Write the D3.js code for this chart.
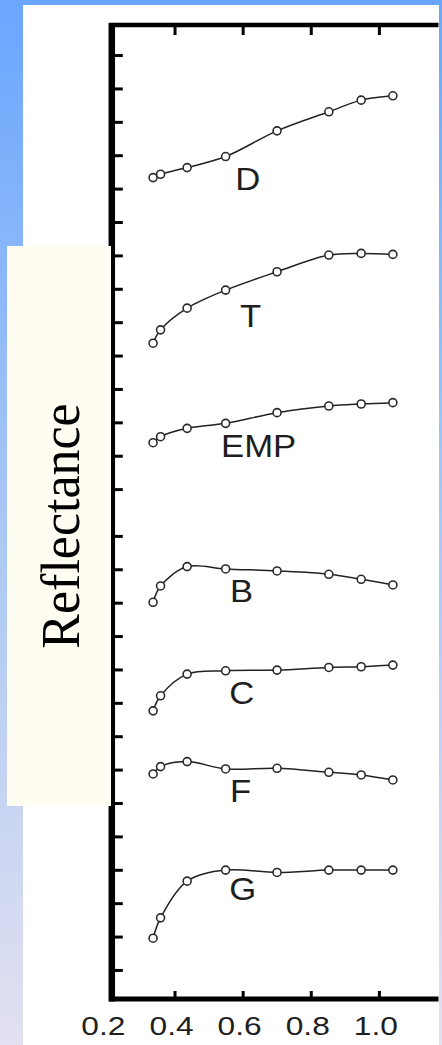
<!DOCTYPE html>
<html>
<head>
<meta charset="utf-8">
<script src="https://cdn.jsdelivr.net/npm/d3@7"></script>
<style>
  html, body { margin: 0; padding: 0; background: #fff; }
  svg { display: block; }
</style>
</head>
<body>
<svg id="chart" width="442" height="1045"></svg>
<script>
// ECAS filter wavelengths (micrometres)
const wavelengths = [0.337, 0.359, 0.437, 0.550, 0.701, 0.853, 0.948, 1.041];

// Taxonomic classes, top to bottom, each spectrum shifted vertically
const classes = ["D", "T", "EMP", "B", "C", "F", "G"];
const reflD   = [24.73, 24.83, 25.03, 25.36, 26.13, 26.70, 27.05, 27.18];
const reflT   = [19.77, 20.17, 20.82, 21.36, 21.91, 22.41, 22.46, 22.43];
const reflEMP = [16.79, 16.97, 17.22, 17.37, 17.69, 17.89, 17.95, 17.99];
const reflB   = [12.01, 12.50, 13.08, 13.01, 12.95, 12.85, 12.70, 12.53];
const reflC   = [8.76, 9.21, 9.86, 9.96, 9.98, 10.06, 10.08, 10.13];
const reflF   = [6.87, 7.09, 7.24, 7.02, 7.04, 6.92, 6.84, 6.69];
const reflG   = [1.95, 2.56, 3.66, 3.99, 3.92, 3.99, 3.99, 3.99];

// Axis ticks
const xTickValues = [0.4, 0.6, 0.8, 1.0];
const xLabelValues = [0.2, 0.4, 0.6, 0.8, 1.0];
const xTickLabels = ["0.2", "0.4", "0.6", "0.8", "1.0"];
const yTickValues = [1, 2, 3, 4, 5, 6, 7, 8, 9, 10, 11, 12, 13, 14,
                     15.4, 16.4, 17.4, 18.4, 19.4, 20.4, 21.4, 22.4,
                     23.4, 24.4, 25.4, 26.4, 27.4, 28.4];
const yTitle = "Reflectance";

const series = [reflD, reflT, reflEMP, reflB, reflC, reflF, reflG];

const svg = d3.select("#chart");
const W = 442, H = 1045;

// Slide backdrop: vertical blue-to-lavender gradient
const defs = svg.append("defs");
const grad = defs.append("linearGradient")
  .attr("id", "bg").attr("x1", 0).attr("y1", 0).attr("x2", 0).attr("y2", 1);
grad.append("stop").attr("offset", "0%").attr("stop-color", "#6aa6ff");
grad.append("stop").attr("offset", "50%").attr("stop-color", "#a9c8f3");
grad.append("stop").attr("offset", "100%").attr("stop-color", "#e2e0f1");
svg.append("rect").attr("width", W).attr("height", H).attr("fill", "url(#bg)");

// White figure panel
svg.append("rect").attr("x", 23).attr("y", 5).attr("width", 416).attr("height", H - 5)
  .attr("fill", "#ffffff");

const x = d3.scaleLinear().domain([0.2164, 1.175]).range([112, 438.5]);
const y = d3.scaleLinear().domain([0.13, 29.3]).range([999, 25]);

// Left axis with inward ticks
const gLeft = svg.append("g").attr("transform", `translate(${x(0.2164) - 0.2},0)`)
  .call(d3.axisRight(y).tickValues(yTickValues).tickSize(11).tickSizeOuter(0).tickFormat(""));
gLeft.select(".domain").attr("stroke", "#000").attr("stroke-width", 6.5)
  .attr("d", `M0,${y.range()[0] + 2.5}V${y.range()[1] - 2}`);
gLeft.selectAll(".tick line").attr("stroke", "#000").attr("stroke-width", 3);

// Bottom axis, ticks pointing up
const gBottom = svg.append("g").attr("transform", `translate(0,${y(0.13)})`)
  .call(d3.axisTop(x).tickValues(xTickValues).tickSize(8).tickSizeOuter(0).tickFormat(""));
gBottom.select(".domain").attr("stroke", "#000").attr("stroke-width", 5)
  .attr("d", `M${x.range()[0] - 3},0H${x.range()[1]}`);
gBottom.selectAll(".tick line").attr("stroke", "#000").attr("stroke-width", 3);

// Top frame, ticks pointing down
const gTop = svg.append("g").attr("transform", `translate(0,${y(29.3)})`)
  .call(d3.axisBottom(x).tickValues(xTickValues).tickSize(10).tickSizeOuter(0).tickFormat(""));
gTop.select(".domain").attr("stroke", "#000").attr("stroke-width", 4.5)
  .attr("d", `M${x.range()[0] - 3},0H${x.range()[1]}`);
gTop.selectAll(".tick line").attr("stroke", "#000").attr("stroke-width", 3);

// Wavelength labels
svg.append("g").selectAll("text").data(xLabelValues).join("text")
  .attr("transform", d => `translate(${x(d) - 3},1035) scale(1.22,1)`)
  .attr("text-anchor", "middle")
  .attr("font-family", "'Liberation Sans', Arial, sans-serif")
  .attr("font-size", 26)
  .attr("fill", "#1e1e1e")
  .text((d, i) => xTickLabels[i]);

// Spectra
const line = d3.line()
  .x((d, i) => x(wavelengths[i]))
  .y(d => y(d))
  .curve(d3.curveCatmullRom.alpha(0.5));

const gSeries = svg.append("g");
series.forEach((vals, k) => {
  const g = gSeries.append("g");
  g.append("path").attr("d", line(vals))
    .attr("fill", "none").attr("stroke", "#222").attr("stroke-width", 1.5);
  g.selectAll("circle").data(vals).join("circle")
    .attr("cx", (d, i) => x(wavelengths[i]))
    .attr("cy", d => y(d))
    .attr("r", 4)
    .attr("fill", "#fff")
    .attr("stroke", "#2a2a2a")
    .attr("stroke-width", 1.6);
});

// Class labels, set below each spectrum near 0.6 µm
const labelNudge = { D: 5, T: 8, EMP: 16, B: -1, C: -1, F: -2, G: 0 };
const labelDrop = { D: 33, T: 37, EMP: 34, B: 33, C: 33, F: 33, G: 30 };
svg.append("g").selectAll("text").data(classes).join("text")
  .attr("transform", (c, k) =>
    `translate(${x(0.6) + labelNudge[c]},${y(series[k][3]) + labelDrop[c]}) scale(1.12,1)`)
  .attr("text-anchor", "middle")
  .attr("font-family", "'Liberation Sans', Arial, sans-serif")
  .attr("font-size", 31)
  .attr("fill", "#1e1e1e")
  .text(c => c);

// Axis title panel
svg.append("rect").attr("x", 7).attr("y", 246).attr("width", 104).attr("height", 560)
  .attr("fill", "#fffdf1");
svg.append("text")
  .attr("transform", "translate(79,526) scale(1.06,1) rotate(-90)")
  .attr("text-anchor", "middle")
  .attr("font-family", "'Liberation Serif', 'Times New Roman', serif")
  .attr("font-size", 52)
  .attr("fill", "#000")
  .text(yTitle);
</script>
</body>
</html>
